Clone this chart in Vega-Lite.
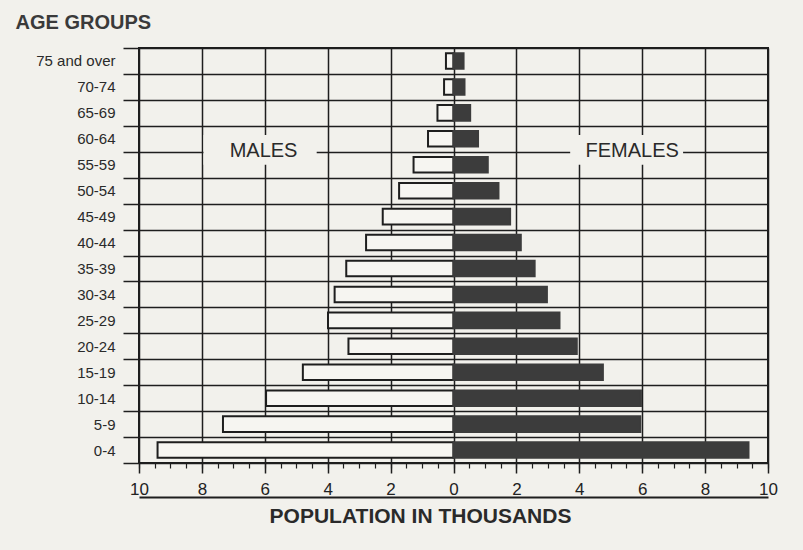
{
  "$schema": "https://vega.github.io/schema/vega-lite/v6.json",
  "width": 629,
  "height": 415,
  "autosize": "none",
  "padding": {"left": 139, "top": 48, "right": 35, "bottom": 87},
  "background": "#f2f1ec",
  "config": {
    "font": "Liberation Sans",
    "view": {"stroke": "#1e1e1e", "strokeWidth": 2, "fill": "#f2f1ec"}
  },
  "layer": [
    {
      "data": {
        "values": [
          {"age": "75 and over", "sex": "Males", "population": -0.24},
          {"age": "70-74", "sex": "Males", "population": -0.30},
          {"age": "65-69", "sex": "Males", "population": -0.51},
          {"age": "60-64", "sex": "Males", "population": -0.81},
          {"age": "55-59", "sex": "Males", "population": -1.27},
          {"age": "50-54", "sex": "Males", "population": -1.73},
          {"age": "45-49", "sex": "Males", "population": -2.25},
          {"age": "40-44", "sex": "Males", "population": -2.78},
          {"age": "35-39", "sex": "Males", "population": -3.41},
          {"age": "30-34", "sex": "Males", "population": -3.78},
          {"age": "25-29", "sex": "Males", "population": -3.99},
          {"age": "20-24", "sex": "Males", "population": -3.34},
          {"age": "15-19", "sex": "Males", "population": -4.79},
          {"age": "10-14", "sex": "Males", "population": -5.96},
          {"age": "5-9", "sex": "Males", "population": -7.33},
          {"age": "0-4", "sex": "Males", "population": -9.41},
          {"age": "75 and over", "sex": "Females", "population": 0.32},
          {"age": "70-74", "sex": "Females", "population": 0.35},
          {"age": "65-69", "sex": "Females", "population": 0.53},
          {"age": "60-64", "sex": "Females", "population": 0.78},
          {"age": "55-59", "sex": "Females", "population": 1.09},
          {"age": "50-54", "sex": "Females", "population": 1.43},
          {"age": "45-49", "sex": "Females", "population": 1.80},
          {"age": "40-44", "sex": "Females", "population": 2.14},
          {"age": "35-39", "sex": "Females", "population": 2.58},
          {"age": "30-34", "sex": "Females", "population": 2.97},
          {"age": "25-29", "sex": "Females", "population": 3.37},
          {"age": "20-24", "sex": "Females", "population": 3.92},
          {"age": "15-19", "sex": "Females", "population": 4.75},
          {"age": "10-14", "sex": "Females", "population": 5.96},
          {"age": "5-9", "sex": "Females", "population": 5.94},
          {"age": "0-4", "sex": "Females", "population": 9.38}
        ]
      },
      "mark": {"type": "bar", "height": {"band": 0.6}, "strokeWidth": 2},
      "encoding": {
        "y": {
          "field": "age",
          "type": "nominal",
          "scale": {
            "domain": ["75 and over", "70-74", "65-69", "60-64", "55-59", "50-54", "45-49", "40-44", "35-39", "30-34", "25-29", "20-24", "15-19", "10-14", "5-9", "0-4"],
            "paddingInner": 0,
            "paddingOuter": 0
          },
          "axis": {
            "title": "AGE GROUPS",
            "titleAngle": 0,
            "titleAlign": "left",
            "titleBaseline": "alphabetic",
            "titleX": -124,
            "titleY": -20,
            "titleFontSize": 20,
            "titleFontWeight": "bold",
            "titleColor": "#3a3a3a",
            "tickBand": "extent",
            "grid": true,
            "gridColor": "#1e1e1e",
            "gridWidth": 1.5,
            "gridOpacity": 1,
            "tickSize": 16,
            "tickColor": "#1e1e1e",
            "tickWidth": 1.5,
            "labelPadding": 8,
            "labelFontSize": 15,
            "labelColor": "#2a2a2a",
            "domain": false
          }
        },
        "x": {
          "field": "population",
          "type": "quantitative",
          "scale": {"domain": [-10, 10], "nice": false},
          "axis": {
            "orient": "bottom",
            "values": [-10, -8, -6, -4, -2, 0, 2, 4, 6, 8, 10],
            "labelExpr": "'' + abs(datum.value)",
            "title": null,
            "grid": true,
            "gridColor": "#1e1e1e",
            "gridWidth": 1.5,
            "gridOpacity": 1,
            "tickSize": 10,
            "tickWidth": 1.5,
            "tickColor": "#1e1e1e",
            "labelFontSize": 17,
            "labelPadding": 8,
            "labelColor": "#222222",
            "labelFlush": false,
            "domain": false
          }
        },
        "fill": {
          "field": "sex",
          "type": "nominal",
          "scale": {"domain": ["Males", "Females"], "range": ["#f6f5f1", "#3c3c3c"]},
          "legend": null
        },
        "stroke": {
          "field": "sex",
          "type": "nominal",
          "scale": {"domain": ["Males", "Females"], "range": ["#1e1e1e", "#3c3c3c"]},
          "legend": null
        }
      }
    },
    {
      "data": {
        "values": [
          {"label": "MALES", "top": "60-64", "bottom": "55-59"}
        ]
      },
      "mark": {"type": "rect", "fill": "#f2f1ec"},
      "encoding": {
        "x": {
          "datum": -7.95,
          "type": "quantitative",
          "axis": {
            "orient": "bottom",
            "values": [-10, -9.5, -9, -8.5, -8, -7.5, -7, -6.5, -6, -5.5, -5, -4.5, -4, -3.5, -3, -2.5, -2, -1.5, -1, -0.5, 0, 0.5, 1, 1.5, 2, 2.5, 3, 3.5, 4, 4.5, 5, 5.5, 6, 6.5, 7, 7.5, 8, 8.5, 9, 9.5, 10],
            "labels": false,
            "ticks": true,
            "tickSize": 5,
            "tickWidth": 1.2,
            "tickColor": "#1e1e1e",
            "domain": false,
            "grid": false,
            "title": null
          }
        },
        "x2": {"datum": -4.35},
        "y": {"field": "top", "type": "nominal", "bandPosition": 0.35, "axis": null},
        "y2": {"field": "bottom", "bandPosition": 0.5}
      }
    },
    {
      "data": {
        "values": [
          {"label": "FEMALES", "top": "60-64", "bottom": "55-59"}
        ]
      },
      "mark": {"type": "rect", "fill": "#f2f1ec"},
      "encoding": {
        "x": {"datum": 3.71, "type": "quantitative", "axis": null},
        "x2": {"datum": 7.30},
        "y": {"field": "top", "type": "nominal", "bandPosition": 0.35, "axis": null},
        "y2": {"field": "bottom", "bandPosition": 0.5}
      }
    },
    {
      "data": {
        "values": [
          {"label": "MALES", "bottom": "55-59"}
        ]
      },
      "mark": {"type": "text", "fontSize": 20, "fill": "#2a2a2a", "align": "center", "baseline": "middle", "dy": -1},
      "encoding": {
        "x": {"datum": -6.04, "type": "quantitative", "axis": null},
        "y": {"field": "bottom", "type": "nominal", "bandPosition": 0, "axis": null},
        "text": {"field": "label"}
      }
    },
    {
      "data": {
        "values": [
          {"label": "FEMALES", "bottom": "55-59"}
        ]
      },
      "mark": {"type": "text", "fontSize": 20, "fill": "#2a2a2a", "align": "center", "baseline": "middle", "dy": -1},
      "encoding": {
        "x": {
          "datum": 5.68,
          "type": "quantitative",
          "axis": {
            "orient": "bottom",
            "domain": true,
            "domainColor": "#1e1e1e",
            "domainWidth": 2,
            "offset": 34,
            "ticks": false,
            "labels": false,
            "grid": false,
            "title": "POPULATION IN THOUSANDS",
            "titleFontSize": 21,
            "titleFontWeight": "bold",
            "titleColor": "#2a2a2a",
            "titlePadding": 8,
            "titleX": 281
          }
        },
        "y": {"field": "bottom", "type": "nominal", "bandPosition": 0, "axis": null},
        "text": {"field": "label"}
      }
    }
  ],
  "resolve": {"axis": {"x": "independent", "y": "independent"}}
}
